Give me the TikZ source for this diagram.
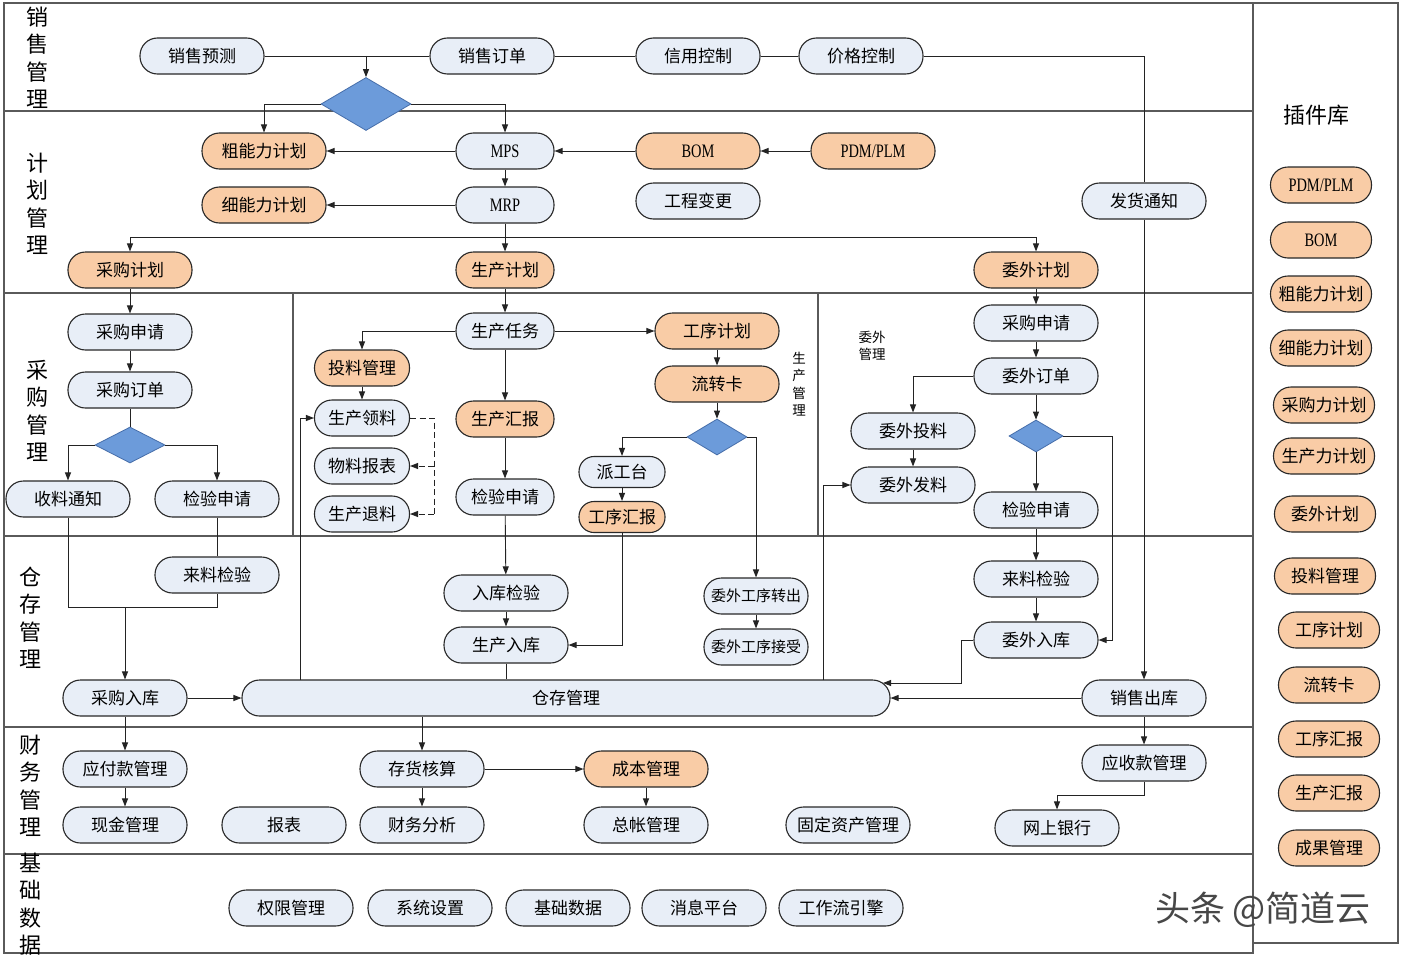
\documentclass[tikz,border=0pt]{standalone}
\usepackage{fontspec}
\setmainfont{Noto Sans CJK SC}
\newfontfamily\latf[FakeStretch=0.76]{Liberation Serif}
\usetikzlibrary{arrows.meta,shapes.geometric}
\definecolor{pblue}{RGB}{232,238,247}
\definecolor{porange}{RGB}{249,204,166}
\definecolor{pdia}{RGB}{108,155,218}
\definecolor{diaedge}{RGB}{70,110,170}
\definecolor{nodeline}{RGB}{40,40,40}
\definecolor{linec}{RGB}{35,35,35}
\definecolor{lanec}{RGB}{90,90,90}
\newcommand\nf{\fontsize{17}{18}\selectfont}
\newcommand\smf{\fontsize{15}{17}\selectfont}
\newcommand\lanef{\fontsize{22}{27.5}\selectfont}
\newcommand\tinyl{\fontsize{13.5}{17.5}\selectfont}
\newcommand\lt{\latf\fontsize{19}{20}\selectfont}
\tikzset{
  pill/.style={draw=nodeline, line width=1.1pt, rounded corners=17.5pt, minimum height=36pt,
    minimum width=124pt, inner sep=0pt, font=\nf},
  bl/.style={pill, fill=pblue},
  og/.style={pill, fill=porange},
  plug/.style={og, minimum width=101pt, font=\fontsize{17}{18}\selectfont},
  dia/.style={diamond, draw=diaedge, line width=0.8pt, fill=pdia, inner sep=0pt},
  arr/.style={-{Triangle[length=8pt,width=6pt]}},
  conn/.style={draw=linec, line width=0.9pt},
  lane/.style={draw=lanec, line width=1.5pt},
  lanelab/.style={align=center, font=\lanef, inner sep=0pt},
}
\begin{document}
\begin{tikzpicture}[x=1pt,y=-1pt]
\useasboundingbox[fill=white] (0,0) rectangle (1402,958);
% frames
\draw[lane] (4,3) rectangle (1253,953);
\draw[lane] (1253,3) -- (1398,3) -- (1398,943) -- (1253,943);
\foreach \yy in {111,293,536,727,854} \draw[lane] (4,\yy) -- (1253,\yy);
\draw[lane] (293,293) -- (293,536);
\draw[lane] (818,293) -- (818,536);
% lane labels
\node[lanelab] (l1) at (38,58) {销\\售\\管\\理};
\node[lanelab] (l2) at (38,204) {计\\划\\管\\理};
\node[lanelab] (l3) at (38,411) {采\\购\\管\\理};
\node[lanelab] (l4) at (30,618) {仓\\存\\管\\理};
\node[lanelab] (l5) at (30,786) {财\\务\\管\\理};
\node[lanelab] (l6) at (30,904) {基\\础\\数\\据};
\node[lanelab] (l7) at (1316,115) {插件库};
\node[align=center, font=\tinyl, inner sep=0pt] (l8) at (799,384) {生\\产\\管\\理};
\node[align=center, font=\tinyl, inner sep=0pt] (l9) at (872,346) {委外\\管理};
% sales
\node[bl] (xsyc) at (202,56) {销售预测};
\node[bl] (xsdd) at (492,56) {销售订单};
\node[bl] (xykz) at (698,56) {信用控制};
\node[bl] (jgkz) at (861,56) {价格控制};
\node[dia, minimum width=90, minimum height=53] (d1) at (366,104) {};
% plan
\node[og] (cnl) at (264,151) {粗能力计划};
\node[og] (xnl) at (264,205) {细能力计划};
\node[bl, minimum width=98] (mps) at (505,151) {\lt MPS};
\node[bl, minimum width=98] (mrp) at (505,205) {\lt MRP};
\node[og] (bom) at (698,151) {\lt BOM};
\node[og] (pdm) at (873,151) {\lt PDM/PLM};
\node[bl] (gcbg) at (698,201) {工程变更};
\node[bl] (fhtz) at (1144,201) {发货通知};
\node[og] (cgjh) at (130,270) {采购计划};
\node[og, minimum width=98] (scjh) at (505,270) {生产计划};
\node[og] (wwjh) at (1036,270) {委外计划};
% purchase left
\node[bl] (cgsq) at (130,332) {采购申请};
\node[bl] (cgdd) at (130,390) {采购订单};
\node[dia, minimum width=70, minimum height=36] (d2) at (130,445) {};
\node[bl] (sltz) at (68,499) {收料通知};
\node[bl] (jysqa) at (217,499) {检验申请};
% production
\node[bl, minimum width=98] (scrw) at (505,331) {生产任务};
\node[og, minimum width=95] (tlgl) at (362,368) {投料管理};
\node[bl, minimum width=95] (scll) at (362,418) {生产领料};
\node[bl, minimum width=95] (wlbb) at (362,466) {物料报表};
\node[bl, minimum width=95] (sctl) at (362,514) {生产退料};
\node[og, minimum width=98] (schb) at (505,419) {生产汇报};
\node[bl, minimum width=98] (jysqb) at (505,497) {检验申请};
\node[og] (gxjh) at (717,331) {工序计划};
\node[og] (lzk) at (717,384) {流转卡};
\node[dia, minimum width=60, minimum height=36] (d3) at (717,437) {};
\node[bl, minimum width=86, minimum height=31, rounded corners=15pt] (pgt) at (622,472) {派工台};
\node[og, minimum width=86, minimum height=31, rounded corners=15pt] (gxhb) at (622,517) {工序汇报};
% outsourcing
\node[bl] (cgsqb) at (1036,323) {采购申请};
\node[bl] (wwdd) at (1036,376) {委外订单};
\node[bl] (wwtl) at (913,431) {委外投料};
\node[bl] (wwfl) at (913,485) {委外发料};
\node[dia, minimum width=54, minimum height=32] (d4) at (1036,436) {};
\node[bl] (jysqc) at (1036,510) {检验申请};
% warehouse
\node[bl] (llyja) at (217,575) {来料检验};
\node[bl] (rkjy) at (506,593) {入库检验};
\node[bl] (scrk) at (506,645) {生产入库};
\node[bl, minimum width=104, font=\smf] (wwzc) at (756,596) {委外工序转出};
\node[bl, minimum width=104, font=\smf] (wwjs) at (756,647) {委外工序接受};
\node[bl] (llyjb) at (1036,579) {来料检验};
\node[bl] (wwrk) at (1036,640) {委外入库};
\node[bl] (cgrk) at (125,698) {采购入库};
\node[bl, minimum width=648] (cc) at (566,698) {仓存管理};
\node[bl] (xsck) at (1144,698) {销售出库};
% finance
\node[bl] (yfk) at (125,769) {应付款管理};
\node[bl] (xjgl) at (125,825) {现金管理};
\node[bl] (bb) at (284,825) {报表};
\node[bl] (chhs) at (422,769) {存货核算};
\node[bl] (cwfx) at (422,825) {财务分析};
\node[og] (cbgl) at (646,769) {成本管理};
\node[bl] (zzgl) at (646,825) {总帐管理};
\node[bl] (gdzc) at (848,825) {固定资产管理};
\node[bl] (ysk) at (1144,763) {应收款管理};
\node[bl] (wsyh) at (1057,828) {网上银行};
% base
\node[bl] (qxgl) at (291,908) {权限管理};
\node[bl] (xtsz) at (430,908) {系统设置};
\node[bl] (jcsj) at (568,908) {基础数据};
\node[bl] (xxpt) at (704,908) {消息平台};
\node[bl] (gzl) at (841,908) {工作流引擎};
% plugins
\node[plug] (p1) at (1321,185) {\lt PDM/PLM};
\node[plug] (p2) at (1321,240) {\lt BOM};
\node[plug] (p3) at (1321,294) {粗能力计划};
\node[plug] (p4) at (1321,348) {细能力计划};
\node[plug] (p5) at (1324,405) {采购力计划};
\node[plug] (p6) at (1324,456) {生产力计划};
\node[plug] (p7) at (1325,514) {委外计划};
\node[plug] (p8) at (1325,576) {投料管理};
\node[plug] (p9) at (1329,630) {工序计划};
\node[plug] (p10) at (1329,685) {流转卡};
\node[plug] (p11) at (1329,739) {工序汇报};
\node[plug] (p12) at (1329,793) {生产汇报};
\node[plug] (p13) at (1329,848) {成果管理};
% watermark
\node[font=\fontsize{35}{36}\selectfont, text=black!72, inner sep=0pt] (wm) at (1263,910) {头条 @简道云};
% coordinates
\coordinate (j2) at (505,237);
\coordinate (j3) at (217,607);
\coordinate (j4) at (125,607);
\coordinate (k1) at (434,418);
\coordinate (k2) at (434,466);
\coordinate (k3) at (434,514);
\coordinate (pp1) at (300,680);
\coordinate (pp2) at (823,680);
\coordinate (q1) at (1112,436);
\coordinate (q2) at (961,683);
\coordinate (q3) at (883,683);
\coordinate (r1) at (1144,795);
% connectors
\begin{scope}[conn]
\draw (xsyc.east) -- (xsdd.west);
\draw[arr] (d1.north |- xsyc.east) -- (d1.north);
\draw (xsdd.east) -- (xykz.west);
\draw (xykz.east) -- (jgkz.west);
\draw (jgkz.east) -| (fhtz.north);
\draw[arr] (fhtz.south) -- (xsck.north);
\draw[arr] (d1.west) -| (cnl.north);
\draw[arr] (d1.east) -| (mps.north);
\draw[arr] (mps.west) -- (cnl.east);
\draw[arr] (mrp.west) -- (xnl.east);
\draw[arr] (bom.west) -- (mps.east);
\draw[arr] (pdm.west) -- (bom.east);
\draw[arr] (mps) -- (mrp);
\draw (mrp.south) -- (j2);
\draw[arr] (j2) -| (cgjh.north);
\draw[arr] (j2) -- (scjh.north);
\draw[arr] (j2) -| (wwjh.north);
% purchase
\draw[arr] (cgjh) -- (cgsq);
\draw[arr] (cgsq) -- (cgdd);
\draw (cgdd) -- (d2);
\draw[arr] (d2.west) -| (sltz.north);
\draw[arr] (d2.east) -| (jysqa.north);
\draw (sltz.south) |- (j3) -- (llyja.south);
\draw (jysqa.south) -- (llyja.north);
\draw[arr] (j4) -- (cgrk.north);
% production
\draw[arr] (scjh) -- (scrw);
\draw[arr] (scrw.west) -| (tlgl.north);
\draw[arr] (scrw.east) -- (gxjh.west);
\draw[arr] (tlgl) -- (scll);
\draw[arr] (scrw) -- (schb);
\draw[arr] (schb) -- (jysqb);
\draw[arr] (gxjh) -- (lzk);
\draw[arr] (lzk) -- (d3);
\draw[arr] (d3.west) -| (pgt.north);
\draw[arr] (pgt) -- (gxhb);
\draw[arr] (d3.east) -| (wwzc.north);
\draw[dash pattern=on 6pt off 3.5pt] (scll.east) -- (k1) -- (k3);
\draw[dash pattern=on 6pt off 3.5pt, arr] (k2) -- (wlbb.east);
\draw[dash pattern=on 6pt off 3.5pt, arr] (k3) -- (sctl.east);
\draw[arr] (gxhb.south) |- (scrk.east);
\draw[arr] (jysqb) -- (rkjy);
\draw[arr] (rkjy) -- (scrk);
\draw (scrk.south) -- (scrk.south |- cc.north);
\draw[arr] (pp1) |- (scll.west);
\draw[arr] (pp2) |- (wwfl.west);
\draw[arr] (wwzc) -- (wwjs);
% outsourcing
\draw[arr] (wwjh) -- (cgsqb);
\draw[arr] (cgsqb) -- (wwdd);
\draw[arr] (wwdd.west) -| (wwtl.north);
\draw[arr] (wwtl) -- (wwfl);
\draw[arr] (wwdd) -- (d4);
\draw[arr] (d4) -- (jysqc);
\draw[arr] (d4.east) -- (q1) |- (wwrk.east);
\draw[arr] (jysqc) -- (llyjb);
\draw[arr] (llyjb) -- (wwrk);
\draw[arr] (wwrk.west) -| (q2) -- (q3);
\draw[arr] (xsck.west) -- (cc.east);
\draw[arr] (cgrk.east) -- (cc.west);
% finance
\draw[arr] (cgrk) -- (yfk);
\draw[arr] (yfk) -- (xjgl);
\draw[arr] (cc.south -| chhs.north) -- (chhs.north);
\draw[arr] (chhs) -- (cwfx);
\draw[arr] (chhs.east) -- (cbgl.west);
\draw[arr] (cbgl) -- (zzgl);
\draw[arr] (xsck) -- (ysk);
\draw[arr] (ysk.south) -- (r1) -| (wsyh.north);
\end{scope}
\end{tikzpicture}
\end{document}
